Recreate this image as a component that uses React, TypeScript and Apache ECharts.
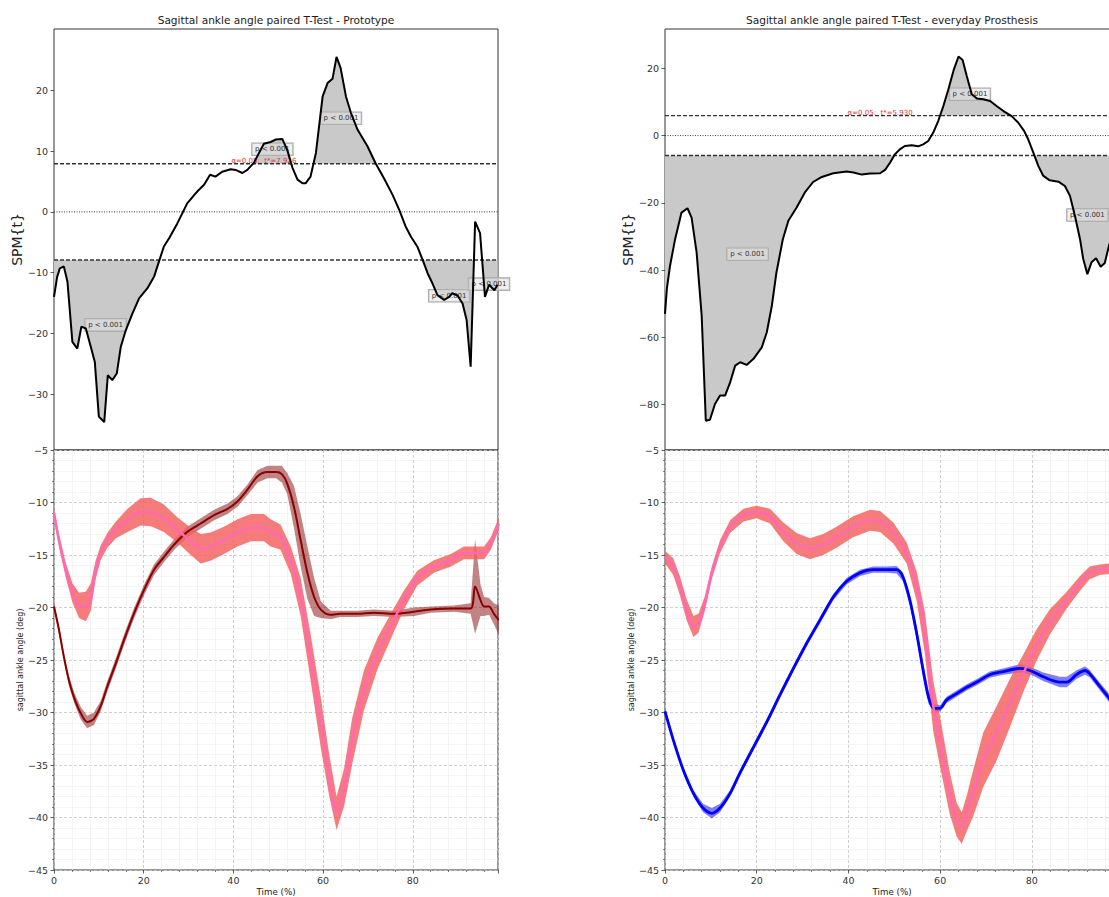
import React, { useEffect, useRef } from "react";
import * as echarts from "echarts";

// ---------- SPM{t} curves ----------
const spmProtoX = [0, 0.7, 1.3, 2.2, 3, 4.1, 5.2, 6.1, 7.1, 8.2, 9.1, 10, 11.2, 12, 13, 14, 14.9, 16, 17.5, 19, 20.8, 22.3, 23.4, 24.5, 25.7, 27.5, 29.7, 32, 33.5, 34.8, 36, 37.5, 39.4, 40.5, 42, 43.1, 44.6, 45.7, 46.8, 48.3, 49.4, 50.9, 52, 53.2, 54.3, 55.4, 56.1, 57.2, 58.4, 59.9, 61, 62.1, 63, 63.9, 65.1, 66.2, 67.7, 69.9, 71.7, 73.6, 75.5, 77, 78.4, 79.6, 81, 82.2, 83.3, 84.4, 85.5, 87, 88.1, 88.8, 90, 91.1, 92, 92.9, 93.9, 95, 96.1, 97, 98.2, 98.9];
const spmProtoT = [-14, -10.7, -9.3, -9.0, -11.5, -21.4, -22.5, -18.9, -19.2, -22.2, -24.7, -33.7, -34.6, -26.9, -27.7, -26.6, -22.2, -19.5, -16.7, -14.2, -12.6, -10.7, -8.2, -5.7, -4.3, -1.9, 1.4, 3.4, 4.5, 6.1, 5.8, 6.6, 7.0, 6.9, 6.4, 6.9, 8.1, 9.7, 11.2, 11.5, 11.9, 12.0, 10.2, 7.2, 5.3, 4.7, 4.7, 5.8, 9.7, 19.0, 21.2, 21.9, 25.5, 23.7, 19.0, 16.3, 13.5, 10.8, 8.0, 5.5, 2.8, 0.3, -2.4, -4.1, -5.7, -7.9, -10.1, -11.8, -13.7, -14.5, -14.0, -13.4, -13.8, -15.1, -17.8, -25.5, -1.6, -3.5, -14.0, -12.0, -12.9, -12.0];
const spmProtoThreshold = 7.926;

const spmEverydayX = [0, 0.4, 1.1, 2.2, 3.6, 4.9, 5.8, 6.9, 8, 8.9, 9.8, 10.9, 12, 13.1, 14.2, 15.3, 16.4, 17.8, 19.3, 21.1, 22.2, 23.3, 24.3, 25.7, 26.9, 28.7, 30.5, 32.3, 34.2, 36.7, 39.6, 41.1, 42.9, 44.7, 46.9, 48, 49.1, 50.1, 51.2, 52.3, 53.8, 55.2, 56.3, 57.4, 58.5, 59.6, 60.7, 61.8, 63, 64, 64.9, 65.8, 66.9, 68, 69.4, 70.9, 72.3, 73.8, 75.6, 77, 78.3, 79.2, 80.3, 81.4, 82.5, 83.9, 85.8, 87.2, 88.3, 89.4, 90.5, 91.2, 92.1, 93, 94, 95, 95.9, 96.8, 98, 99];
const spmEverydayT = [-53, -45.6, -38.7, -30.8, -22.9, -21.6, -24.4, -34.8, -53.6, -84.8, -84.5, -79.8, -77.3, -77.3, -73.4, -68.4, -67.4, -68.2, -66.4, -63, -58.5, -50.6, -40.7, -30.8, -25.3, -21.4, -16.9, -13.8, -12.3, -11.2, -10.7, -11.0, -11.6, -11.3, -11.2, -10.2, -8.0, -5.6, -4.1, -3.1, -2.9, -3.2, -2.6, -1.6, 0.9, 4.4, 8.8, 13.8, 19.7, 23.5, 22.5, 17.7, 12.3, 11.0, 10.8, 10.3, 8.8, 7.3, 5.8, 3.9, 1.4, -1.1, -5.0, -9.0, -12.0, -13.3, -13.7, -15.0, -17.9, -23.9, -30.8, -36.7, -41.2, -37.7, -36.5, -39.0, -37.9, -32.8, -28, -25];
const spmEverydayThreshold = 5.93;

// cluster annotations [x, t]
const pLabelsProto = [[11.5, -18.6], [48.7, 10.3], [64, 15.4], [88.1, -13.8], [97, -11.9]];
const pLabelsEveryday = [[18, -35.3], [66.5, 12.3], [92.1, -23.6]];
const threshLabelProto = [46.8, 8.3];
const threshLabelEveryday = [46.9, 6.7];

// ---------- Kinematics (mean ± sd) ----------
// reference (pink) – left panel
const refLX = [0, 1.1, 2.6, 4.1, 5.6, 7.1, 8.2, 9.3, 10.4, 11.9, 13.8, 16.4, 19.3, 21.6, 24.5, 27.5, 30.5, 32.7, 34.9, 37.9, 40.9, 43.9, 46.8, 48.3, 50.5, 52.8, 55, 57.2, 59.5, 61.3, 63, 64.7, 66.5, 69.1, 72.1, 75.1, 78, 81, 84.7, 88.5, 91.4, 93.6, 95.9, 97.4, 99.2];
const refLMean = [-11.0, -13.6, -16.4, -18.6, -19.8, -19.9, -19.0, -16.4, -14.8, -13.6, -12.6, -11.7, -10.9, -10.9, -11.5, -12.6, -13.7, -14.4, -14.2, -13.6, -12.9, -12.4, -12.4, -12.9, -13.3, -15.5, -19.0, -24.7, -31.0, -35.8, -39.6, -37.1, -32.7, -27.9, -24.4, -21.8, -19.3, -17.2, -16.1, -15.5, -14.8, -14.8, -14.8, -13.9, -12.0];
const refLSd = [0.5, 0.6, 0.7, 0.9, 1.2, 1.4, 1.3, 0.9, 0.7, 0.7, 0.8, 1.1, 1.3, 1.35, 1.3, 1.2, 1.3, 1.4, 1.35, 1.3, 1.3, 1.3, 1.3, 1.3, 1.2, 1.3, 1.8, 2.2, 2.4, 2.0, 1.6, 1.8, 2.2, 1.9, 1.5, 1.2, 0.9, 0.7, 0.6, 0.6, 0.6, 0.6, 0.6, 0.6, 0.6];

// prototype (dark red)
const protoX = [0, 1.1, 2.2, 3.3, 4.5, 6, 7.4, 8.9, 10.4, 11.9, 13.8, 15.6, 17.8, 20.1, 22.3, 24.5, 26.8, 29.7, 32.7, 35.7, 38.7, 40.9, 43.1, 45.4, 47.6, 49.5, 50.8, 52, 53.5, 55, 56.5, 58, 59.5, 61.7, 63.9, 67.6, 71.3, 75.8, 80.3, 84, 89.2, 92.9, 93.9, 95.1, 95.9, 97, 98.1, 99.2];
const protoMean = [-19.9, -22.1, -24.7, -26.9, -28.6, -30.1, -30.9, -30.6, -29.4, -27.5, -25.3, -23.1, -20.6, -18.3, -16.4, -15.2, -14.0, -12.8, -12.0, -11.2, -10.6, -9.9, -8.8, -7.5, -7.1, -7.1, -7.3, -8.2, -10.4, -13.6, -16.7, -19.0, -20.2, -20.7, -20.6, -20.6, -20.5, -20.6, -20.4, -20.2, -20.1, -20.1, -18.0, -19.3, -19.9, -19.9, -20.6, -21.2];
const protoSd = [0.3, 0.4, 0.4, 0.5, 0.5, 0.6, 0.6, 0.6, 0.5, 0.5, 0.5, 0.5, 0.5, 0.5, 0.5, 0.5, 0.5, 0.5, 0.5, 0.5, 0.5, 0.5, 0.5, 0.6, 0.6, 0.6, 0.8, 1.0, 2.0, 2.5, 2.5, 1.8, 0.8, 0.4, 0.3, 0.3, 0.3, 0.3, 0.4, 0.3, 0.3, 0.5, 4.5, 1.5, 0.9, 0.8, 1.0, 1.4];

// reference (pink) – right panel
const refRX = [0, 1.8, 3.3, 4.7, 6.2, 7.3, 8.7, 10.2, 12, 14.2, 17.1, 20, 22.9, 25.8, 28.7, 31.6, 34.5, 37.4, 41, 44.7, 46.9, 49.8, 52.7, 54.9, 56.7, 58.5, 59.9, 62.1, 63.6, 64.7, 65.8, 67.2, 69.4, 72.3, 75.2, 78.1, 81, 83.9, 87.6, 90.5, 92.6, 94.8, 96.8, 98, 99];
const refRMean = [-15.2, -16.1, -18.0, -20.2, -21.8, -21.5, -19.6, -16.7, -14.2, -12.3, -11.2, -10.9, -11.3, -12.8, -13.9, -14.4, -14.0, -13.3, -12.3, -11.7, -11.8, -12.9, -14.8, -18.0, -22.5, -29.4, -32.6, -37.7, -40.2, -41.0, -39.6, -37.7, -34.5, -32.0, -29.1, -26.3, -23.6, -21.4, -19.3, -17.7, -16.7, -16.4, -16.3, -16.2, -16.1];
const refRSd = [0.6, 0.8, 0.9, 1.0, 1.0, 0.9, 0.7, 0.6, 0.6, 0.6, 0.6, 0.6, 0.7, 0.9, 1.0, 1.0, 1.0, 1.0, 1.0, 1.0, 1.0, 1.0, 1.0, 1.4, 2.0, 2.4, 2.4, 2.0, 1.6, 1.5, 1.7, 2.2, 2.6, 2.6, 2.3, 1.8, 1.5, 1.2, 0.8, 0.7, 0.6, 0.5, 0.5, 0.5, 0.5];

// everyday prosthesis (blue)
const everyX = [0, 1.8, 4, 6.2, 8.3, 10.2, 12, 14.2, 16.3, 19.3, 22.2, 25.1, 28, 30.9, 33.8, 36.7, 39.6, 42.5, 45.4, 48.3, 50.5, 51.9, 53.4, 54.9, 56.3, 57.5, 58.7, 60, 61.4, 63.6, 65.8, 68, 70.8, 73.7, 77.4, 79.6, 82.5, 86.1, 87.6, 89.7, 91.6, 92.6, 94.8, 96.8, 98, 99];
const everyMean = [-29.9, -32.6, -35.5, -37.7, -39.1, -39.6, -39.1, -37.7, -35.8, -33.3, -30.9, -28.3, -25.8, -23.4, -21.2, -19.0, -17.5, -16.7, -16.4, -16.4, -16.4, -17.1, -19.3, -22.5, -26.0, -28.6, -29.6, -29.6, -28.8, -28.2, -27.6, -27.1, -26.4, -26.1, -25.8, -26.0, -26.6, -27.1, -27.1, -26.4, -26.0, -26.3, -27.5, -28.6, -29.3, -29.8];
const everySd = [0.3, 0.3, 0.3, 0.3, 0.4, 0.5, 0.4, 0.3, 0.3, 0.3, 0.3, 0.3, 0.3, 0.3, 0.3, 0.3, 0.3, 0.3, 0.3, 0.3, 0.35, 0.4, 0.5, 0.6, 0.7, 0.6, 0.4, 0.3, 0.3, 0.3, 0.3, 0.3, 0.3, 0.3, 0.4, 0.35, 0.4, 0.5, 0.5, 0.4, 0.4, 0.35, 0.35, 0.4, 0.4, 0.4];

// tick labels
const spmProtoTicks = [-30, -20, -10, 0, 10, 20];
const spmEverydayTicks = [-80, -60, -40, -20, 0, 20];

const FONT = "DejaVu Sans";
const fmt = (v: number) => String(v).replace("-", "\u2212");

function clusterPolys(xs: number[], ys: number[], level: number, above: boolean) {
  const inside = (y: number) => (above ? y > level : y < level);
  const cross = (i: number) => {
    const t = (level - ys[i - 1]) / (ys[i] - ys[i - 1]);
    return [xs[i - 1] + t * (xs[i] - xs[i - 1]), level];
  };
  const polys: number[][][] = [];
  let cur: number[][] | null = null;
  for (let i = 0; i < xs.length; i++) {
    if (inside(ys[i])) {
      if (!cur) cur = [i === 0 ? [xs[0], level] : cross(i)];
      cur.push([xs[i], ys[i]]);
    } else if (cur) {
      cur.push(cross(i));
      polys.push(cur);
      cur = null;
    }
  }
  if (cur) {
    cur.push([xs[xs.length - 1], level]);
    polys.push(cur);
  }
  return polys;
}

function fillSeries(idx: number, xs: number[], ys: number[], thr: number) {
  return {
    type: "custom",
    xAxisIndex: idx,
    yAxisIndex: idx,
    silent: true,
    data: [[xs[0], ys[0]]],
    renderItem: (_p: any, api: any) => {
      const polys = [...clusterPolys(xs, ys, thr, true), ...clusterPolys(xs, ys, -thr, false)];
      return {
        type: "group",
        children: polys.map((p) => ({
          type: "polygon",
          shape: { points: p.map((pt) => api.coord(pt)) },
          style: { fill: "#c9c9c9" },
        })),
      };
    },
  };
}

function bandSeries(idx: number, xs: number[], mean: number[], sd: number[], color: string) {
  return {
    type: "custom",
    xAxisIndex: idx,
    yAxisIndex: idx,
    silent: true,
    data: [[xs[0], mean[0]]],
    renderItem: (_p: any, api: any) => {
      const pts: number[][] = [];
      for (let i = 0; i < xs.length; i++) pts.push(api.coord([xs[i], mean[i] + sd[i]]));
      for (let i = xs.length - 1; i >= 0; i--) pts.push(api.coord([xs[i], mean[i] - sd[i]]));
      return { type: "polygon", shape: { points: pts }, style: { fill: color } };
    },
  };
}

function lineSeries(idx: number, xs: number[], ys: number[], color: string, width: number, smooth: number | boolean, type: any = "solid") {
  return {
    type: "line",
    xAxisIndex: idx,
    yAxisIndex: idx,
    silent: true,
    showSymbol: false,
    symbol: "none",
    smooth,
    data: xs.map((x, i) => [x, ys[i]]),
    lineStyle: { color, width, type },
  };
}

function hLine(idx: number, y: number, type: any, width: number, color: string) {
  return lineSeries(idx, [0, 99], [y, y], color, width, false, type);
}

function pLabelSeries(idx: number, pts: number[][]) {
  return {
    type: "custom",
    xAxisIndex: idx,
    yAxisIndex: idx,
    silent: true,
    data: pts,
    renderItem: (_p: any, api: any) => {
      const c = api.coord([api.value(0), api.value(1)]);
      return {
        type: "text",
        x: c[0],
        y: c[1],
        style: {
          text: "p < 0.001",
          fontSize: 7,
          fontFamily: FONT,
          fill: "#333",
          align: "center",
          verticalAlign: "middle",
          backgroundColor: "rgba(225,225,225,0.55)",
          borderColor: "#a8a8a8",
          borderWidth: 0.8,
          padding: [3, 3, 2, 3],
        },
      };
    },
  };
}

function threshLabelSeries(idx: number, pos: number[], thr: number) {
  return {
    type: "custom",
    xAxisIndex: idx,
    yAxisIndex: idx,
    silent: true,
    data: [pos],
    renderItem: (_p: any, api: any) => {
      const c = api.coord([api.value(0), api.value(1)]);
      return {
        type: "text",
        x: c[0],
        y: c[1],
        style: {
          text: "\u03B1=0.05:  t*=" + thr.toFixed(3),
          fontSize: 7,
          fontFamily: FONT,
          fill: "#e03838",
          align: "center",
          verticalAlign: "middle",
        },
      };
    },
  };
}

const gridStyle = { show: true, borderColor: "#333", borderWidth: 1, backgroundColor: "transparent" };

const topX = (g: number) => ({ type: "value", gridIndex: g, min: 0, max: 99, show: false });

const bottomX = (g: number) => ({
  type: "value",
  gridIndex: g,
  min: 0,
  max: 99,
  interval: 20,
  name: "Time (%)",
  nameLocation: "middle",
  nameGap: 17,
  nameTextStyle: { fontSize: 8.7, color: "#222", fontFamily: FONT },
  axisLine: { show: false, onZero: false },
  axisTick: { show: true, length: 3.5, lineStyle: { color: "#333", width: 0.8 } },
  minorTick: { show: true, splitNumber: 5, length: 2, lineStyle: { color: "#333", width: 0.6 } },
  axisLabel: {
    fontSize: 9.5,
    color: "#333",
    margin: 5,
    fontFamily: FONT,
    formatter: (v: number) => (v % 20 === 0 ? fmt(v) : ""),
  },
  splitLine: { show: true, lineStyle: { color: "#c4c4c4", type: [3, 2], width: 0.8 } },
  minorSplitLine: { show: true, lineStyle: { color: "#ececec", width: 0.6 } },
});

const topY = (g: number, min: number, max: number, ticks: number[]) => ({
  type: "value",
  gridIndex: g,
  min,
  max,
  name: "SPM{t}",
  nameLocation: "middle",
  nameGap: 27,
  nameTextStyle: { fontSize: 14, color: "#222", fontFamily: FONT },
  axisLine: { show: false },
  axisTick: { show: true, length: 3.5, customValues: ticks, lineStyle: { color: "#333", width: 0.8 } },
  axisLabel: { customValues: ticks, fontSize: 9.5, color: "#333", margin: 6, fontFamily: FONT, formatter: fmt },
  splitLine: { show: false },
});

const bottomY = (g: number) => ({
  type: "value",
  gridIndex: g,
  min: -45,
  max: -5,
  interval: 5,
  name: "sagittal ankle angle (deg)",
  nameLocation: "middle",
  nameGap: 28,
  nameTextStyle: { fontSize: 8, color: "#222", fontFamily: FONT },
  axisLine: { show: false },
  axisTick: { show: true, length: 3.5, lineStyle: { color: "#333", width: 0.8 } },
  minorTick: { show: true, splitNumber: 5, length: 2, lineStyle: { color: "#333", width: 0.6 } },
  axisLabel: { fontSize: 9.5, color: "#333", margin: 6, fontFamily: FONT, formatter: fmt },
  splitLine: { show: true, lineStyle: { color: "#c4c4c4", type: [3, 2], width: 0.8 } },
  minorSplitLine: { show: true, lineStyle: { color: "#ececec", width: 0.6 } },
});

const PINK = "#ff69b4";
const PINK_BAND = "rgba(244,95,95,0.82)";
const DARKRED = "#8b0000";
const DARKRED_BAND = "rgba(130,10,10,0.5)";
const BLUE = "#0000ff";
const BLUE_BAND = "rgba(0,0,230,0.5)";

function buildOption() {
  return {
    animation: false,
    backgroundColor: "#fff",
    textStyle: { fontFamily: FONT },
    graphic: [
      {
        type: "text",
        x: 276,
        y: 20,
        style: { text: "Sagittal ankle angle paired T-Test - Prototype", fontSize: 10.6, fill: "#222", align: "center", verticalAlign: "middle", fontFamily: FONT },
      },
      {
        type: "text",
        x: 892,
        y: 20,
        style: { text: "Sagittal ankle angle paired T-Test - everyday Prosthesis", fontSize: 10.6, fill: "#222", align: "center", verticalAlign: "middle", fontFamily: FONT },
      },
    ],
    grid: [
      { left: 54, top: 29, width: 444, height: 421, ...gridStyle },
      { left: 54, top: 450, width: 444, height: 420, ...gridStyle },
      { left: 665, top: 29, width: 454, height: 421, ...gridStyle },
      { left: 665, top: 450, width: 454, height: 420, ...gridStyle },
    ],
    xAxis: [topX(0), bottomX(1), topX(2), bottomX(3)],
    yAxis: [
      topY(0, -39.2, 30.1, spmProtoTicks),
      bottomY(1),
      topY(2, -93.5, 31.7, spmEverydayTicks),
      bottomY(3),
    ],
    series: [
      // left SPM
      fillSeries(0, spmProtoX, spmProtoT, spmProtoThreshold),
      hLine(0, 0, [1, 1.5], 0.9, "#222"),
      hLine(0, spmProtoThreshold, [4, 2], 1.4, "#333"),
      hLine(0, -spmProtoThreshold, [4, 2], 1.4, "#333"),
      lineSeries(0, spmProtoX, spmProtoT, "#000", 2, false),
      threshLabelSeries(0, threshLabelProto, spmProtoThreshold),
      pLabelSeries(0, pLabelsProto),
      // left kinematics
      bandSeries(1, protoX, protoMean, protoSd, DARKRED_BAND),
      lineSeries(1, protoX, protoMean, DARKRED, 2, 0.3),
      bandSeries(1, refLX, refLMean, refLSd, PINK_BAND),
      lineSeries(1, refLX, refLMean, PINK, 2.5, 0.3),
      // right SPM
      fillSeries(2, spmEverydayX, spmEverydayT, spmEverydayThreshold),
      hLine(2, 0, [1, 1.5], 0.9, "#222"),
      hLine(2, spmEverydayThreshold, [4, 2], 1.4, "#333"),
      hLine(2, -spmEverydayThreshold, [4, 2], 1.4, "#333"),
      lineSeries(2, spmEverydayX, spmEverydayT, "#000", 2, false),
      threshLabelSeries(2, threshLabelEveryday, spmEverydayThreshold),
      pLabelSeries(2, pLabelsEveryday),
      // right kinematics
      bandSeries(3, everyX, everyMean, everySd, BLUE_BAND),
      lineSeries(3, everyX, everyMean, BLUE, 2.8, 0.3),
      bandSeries(3, refRX, refRMean, refRSd, PINK_BAND),
      lineSeries(3, refRX, refRMean, PINK, 2.5, 0.3),
    ],
  };
}

export default function App() {
  const ref = useRef<HTMLDivElement>(null);
  useEffect(() => {
    if (!ref.current) return;
    const chart = echarts.init(ref.current, null, { renderer: "svg" });
    chart.setOption(buildOption() as any);
    return () => chart.dispose();
  }, []);
  return (
    <div style={{ position: "absolute", left: 0, top: 0, width: 1109, height: 897, overflow: "hidden", background: "#fff" }}>
      <div ref={ref} style={{ width: 1160, height: 897 }} />
    </div>
  );
}
